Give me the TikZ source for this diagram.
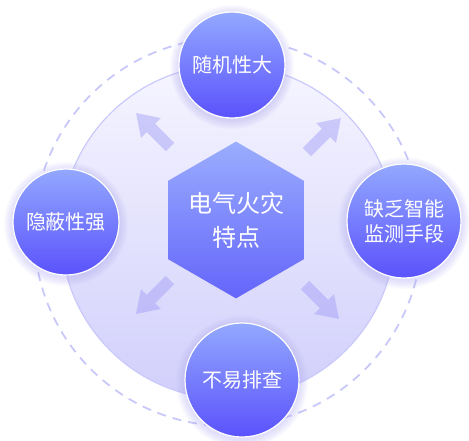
\documentclass[tikz,border=0pt]{standalone}
\usepackage{fontspec}
\newfontfamily\cjk{Noto Sans CJK SC}
\usetikzlibrary{shapes.geometric}
\definecolor{dashcol}{HTML}{C8C8FA}
\definecolor{disctop}{HTML}{F6F5FF}
\definecolor{discbot}{HTML}{D1CFFB}
\definecolor{discedge}{HTML}{C9C9FB}
\definecolor{balltop}{HTML}{93A8FE}
\definecolor{ballbot}{HTML}{5A52FC}
\definecolor{hextop}{HTML}{9AADFD}
\definecolor{hexbot}{HTML}{6465FB}
\definecolor{arrowcol}{HTML}{9E9AF6}
\definecolor{glowcol}{HTML}{B3AEF5}
\begin{document}
\begin{tikzpicture}[x=1pt,y=-1pt,
  ball/.style={circle, minimum size=#1, inner sep=0pt, draw=white, line width=1.2pt,
    top color=balltop, bottom color=ballbot, text=white,
    font=\cjk\fontsize{20}{25}\selectfont, align=center},
  hexa/.style={regular polygon, regular polygon sides=6, shape border rotate=30,
    minimum size=154pt, inner sep=0pt, top color=hextop, bottom color=hexbot,
    text=white, font=\cjk\fontsize{24}{34}\selectfont, align=center},
  blockarrow/.style={fill=arrowcol, fill opacity=0.45},
  glow/.style={fill=glowcol, opacity=0.055}]
\useasboundingbox (0,0) rectangle (469,440);
% outer dashed ring and inner disc
\draw[dashcol, line width=1.8pt, dash pattern=on 9pt off 7pt] (228,232) circle (194);
\draw[discedge, line width=1.2pt, top color=disctop, bottom color=discbot] (228,232) circle (167);
% arrows
\foreach \x/\y/\a in {170/147/135, 307/152/45, 305/285/-45, 170/280/-135}{
  \begin{scope}[shift={(\x,\y)}, rotate=\a]
    \fill[blockarrow] (0,6) -- (27,6) -- (27,14) -- (48,0) -- (27,-14) -- (27,-6) -- (0,-6) -- cycle;
  \end{scope}
}
% glows
\foreach \cx/\cy/\r in {232/65/53, 66/222/53, 404/221/57, 242/380/57}{
  \foreach \k in {1,...,9}{
    \fill[glow] (\cx,\cy+2) circle (\r+\k);
  }
}
% center hexagon
\node[hexa] (center) at (236,220) {电气火灾\\特点};
% outer balls
\node[ball=106pt] (top) at (232,65) {随机性大};
\node[ball=106pt] (left) at (66,222) {隐蔽性强};
\node[ball=114pt] (right) at (404,221) {缺乏智能\\监测手段};
\node[ball=114pt] (bottom) at (242,380) {不易排查};
\end{tikzpicture}
\end{document}
